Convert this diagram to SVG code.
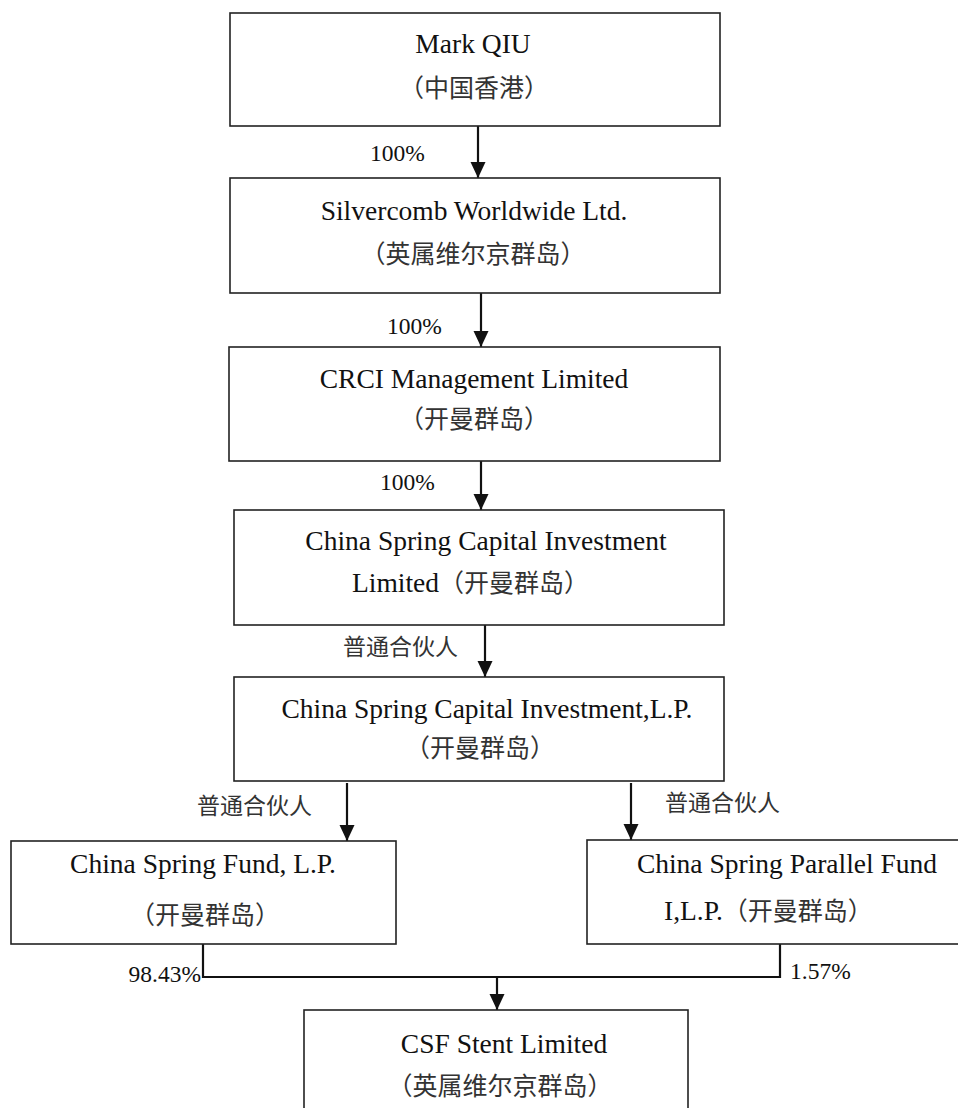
<svg xmlns="http://www.w3.org/2000/svg" width="958" height="1108" viewBox="0 0 958 1108">
<style>
.box{fill:#fff;stroke:#222;stroke-width:1.6}
.en{font-family:"Liberation Serif","Times New Roman",serif;font-size:27.5px;fill:#111}
.zh{font-family:"Noto Sans CJK SC",sans-serif;font-size:25px;fill:#333}
.lbl{font-family:"Liberation Serif","Times New Roman",serif;font-size:23.5px;fill:#111}
.lzh{font-family:"Noto Sans CJK SC",sans-serif;font-size:23px;fill:#333}
.c{text-anchor:middle}
.conn{fill:none;stroke:#111;stroke-width:2.2}
</style>
<defs>
<marker id="ah" markerUnits="userSpaceOnUse" markerWidth="17" markerHeight="16" refX="16" refY="7.5" orient="auto" viewBox="0 0 17 16">
<path d="M0,0 L16,7.5 L0,15 Z" fill="#111"/>
</marker>
</defs>
<rect width="958" height="1108" fill="#fff"/>
<g id="connectors">
<line class="conn" x1="478" y1="126" x2="478" y2="178" marker-end="url(#ah)"/>
<line class="conn" x1="481" y1="293" x2="481" y2="347" marker-end="url(#ah)"/>
<line class="conn" x1="481" y1="461" x2="481" y2="510" marker-end="url(#ah)"/>
<line class="conn" x1="485" y1="625" x2="485" y2="677" marker-end="url(#ah)"/>
<line class="conn" x1="347" y1="783" x2="347" y2="841" marker-end="url(#ah)"/>
<line class="conn" x1="631" y1="783" x2="631" y2="840" marker-end="url(#ah)"/>
<path class="conn" d="M203,944 V977 H780 V944" stroke-width="2.6"/>
<line class="conn" x1="497" y1="977" x2="497" y2="1010" marker-end="url(#ah)"/>
<text class="lbl" x="370" y="161">100%</text>
<text class="lbl" x="387" y="334">100%</text>
<text class="lbl" x="380" y="490">100%</text>
<text class="lzh" x="343" y="655">普通合伙人</text>
<text class="lzh" x="197" y="814">普通合伙人</text>
<text class="lzh" x="665" y="811">普通合伙人</text>
<text class="lbl" x="201" y="982" text-anchor="end">98.43%</text>
<text class="lbl" x="790" y="979">1.57%</text>
</g>
<g id="n1">
<rect class="box" x="230" y="13" width="490" height="113"/>
<text class="en c" x="473" y="53">Mark QIU</text>
<text class="zh c" x="474" y="97">（中国香港）</text>
</g>
<g id="n2">
<rect class="box" x="230" y="178" width="490" height="115"/>
<text class="en c" x="474" y="220">Silvercomb Worldwide Ltd.</text>
<text class="zh c" x="473" y="263">（英属维尔京群岛）</text>
</g>
<g id="n3">
<rect class="box" x="229" y="347" width="491" height="114"/>
<text class="en c" x="474" y="388">CRCI Management Limited</text>
<text class="zh c" x="474" y="428">（开曼群岛）</text>
</g>
<g id="n4">
<rect class="box" x="234" y="510" width="490" height="115"/>
<text class="en c" x="486" y="550">China Spring Capital Investment</text>
<text class="en" x="352" y="592">Limited<tspan class="zh">（开曼群岛）</tspan></text>
</g>
<g id="n5">
<rect class="box" x="234" y="677" width="490" height="104"/>
<text class="en c" x="487" y="718">China Spring Capital Investment,L.P.</text>
<text class="zh c" x="480" y="757">（开曼群岛）</text>
</g>
<g id="n6">
<rect class="box" x="11" y="841" width="385" height="103"/>
<text class="en c" x="203" y="873">China Spring Fund, L.P.</text>
<text class="zh c" x="205" y="924">（开曼群岛）</text>
</g>
<g id="n7">
<rect class="box" x="587" y="840" width="375" height="104"/>
<text class="en c" x="787" y="873">China Spring Parallel Fund</text>
<text class="en" x="664" y="920">I,L.P.<tspan class="zh">（开曼群岛）</tspan></text>
</g>
<g id="n8">
<rect class="box" x="304" y="1010" width="384" height="110"/>
<text class="en c" x="504" y="1053">CSF Stent Limited</text>
<text class="zh c" x="500" y="1095">（英属维尔京群岛）</text>
</g>
</svg>
